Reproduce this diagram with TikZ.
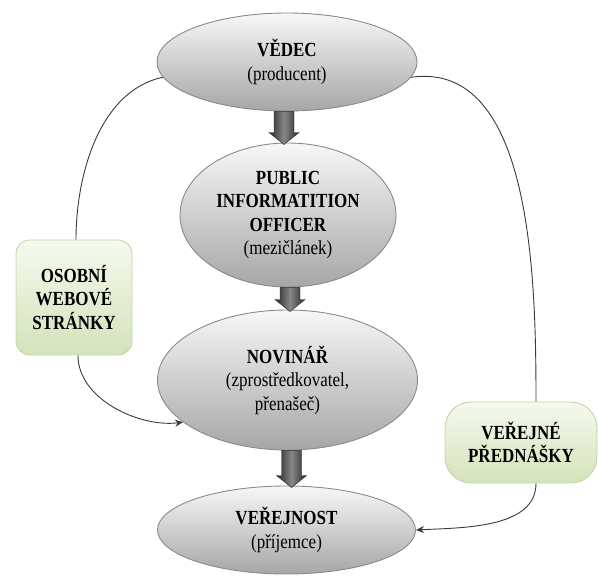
\documentclass[tikz,border=0pt]{standalone}
\usepackage{fontspec}
\setmainfont[FakeStretch=0.85]{Liberation Serif}
\usetikzlibrary{shapes.geometric,arrows.meta,calc}
\definecolor{elltop}{HTML}{F7F7F7}
\definecolor{ellbot}{HTML}{A6A6A6}
\definecolor{ellborder}{HTML}{8A8A8A}
\definecolor{grtop}{HTML}{F6F9EE}
\definecolor{grbot}{HTML}{D4E2BA}
\definecolor{grborder}{HTML}{C3D4A3}
\definecolor{arrdark}{HTML}{262626}
\definecolor{arrlight}{HTML}{888888}
\definecolor{linec}{HTML}{3A3A3A}
\newcommand{\BlkArrow}[3]{%
  \path[blockarr] let \p1=($(#1)+(#3,0)$), \p2=($(#2)+(#3,-2)$) in
  (\x1-10pt,\y1) -- (\x1+10pt,\y1) -- (\x1+10pt,\y2+12pt) -- (\x1+15pt,\y2+12pt)
  -- (\x1,\y2) -- (\x1-15pt,\y2+12pt) -- (\x1-10pt,\y2+12pt) -- cycle;}
\begin{document}
\begin{tikzpicture}[x=1pt,y=1pt,
  txt/.style={font=\fontsize{20}{23.5}\selectfont, align=center, text=black},
  oval/.style={ellipse, txt, inner sep=0pt, draw=ellborder, line width=0.9pt,
     top color=elltop, bottom color=ellbot},
  greenbox/.style={rectangle, txt, inner sep=0pt, draw=grborder, line width=0.9pt,
     top color=grtop, bottom color=grbot},
  blockarr/.style={left color=arrdark, right color=arrdark, middle color=arrlight,
     draw=arrdark, line width=0.4pt},
  conn/.style={draw=linec, line width=0.9pt},
  connarr/.style={conn, -{Stealth[length=8pt,width=7pt]}}
]
\useasboundingbox (0,0) rectangle (598,-577);

\node[oval, minimum width=260pt, minimum height=98pt] (v) at (287,-62)
  {\textbf{VĚDEC}\\(producent)};
\node[oval, minimum width=216pt, minimum height=144pt] (p) at (288,-215)
  {\textbf{PUBLIC}\\\textbf{INFORMATITION}\\\textbf{OFFICER}\\(mezičlánek)};
\node[oval, minimum width=260pt, minimum height=140pt] (n) at (287.5,-380)
  {\textbf{NOVINÁŘ}\\(zprostředkovatel,\\přenašeč)};
\node[oval, minimum width=258pt, minimum height=88pt] (ve) at (286.5,-530)
  {\textbf{VEŘEJNOST}\\(příjemce)};

\node[greenbox, rounded corners=14pt, minimum width=116pt, minimum height=115pt] (os) at (74,-297.5)
  {\textbf{OSOBNÍ}\\\textbf{WEBOVÉ}\\\textbf{STRÁNKY}};
\node[greenbox, rounded corners=26pt, minimum width=152pt, minimum height=81pt] (pr) at (521,-442.5)
  {\textbf{VEŘEJNÉ}\\\textbf{PŘEDNÁŠKY}};

\BlkArrow{v.south}{p.north}{-3}
\BlkArrow{p.south}{n.north}{2}
\BlkArrow{n.south}{ve.north}{4}

\draw[conn] (v.187) to[out=192, in=90, looseness=0.9] ($(os.north)+(2,0)$);
\draw[connarr] ($(os.south)+(4,0)$) to[out=-90, in=187, looseness=0.9] (n.202);
\draw[conn] (v.-7) to[out=8, in=90, looseness=0.9] ($(pr.north)+(15,0)$);
\draw[connarr] ($(pr.south)+(15,0)$) to[out=-90, in=3, looseness=0.9] (ve.east);
\end{tikzpicture}
\end{document}
